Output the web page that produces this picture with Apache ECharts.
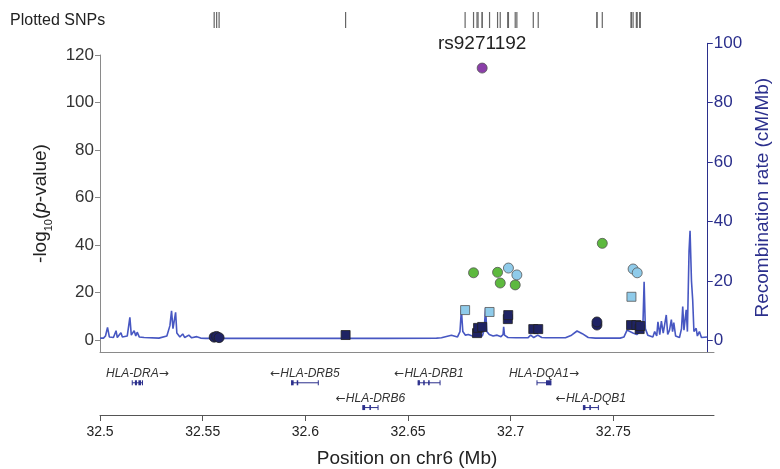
<!DOCTYPE html>
<html>
<head>
<meta charset="utf-8">
<script src="https://cdn.jsdelivr.net/npm/echarts@6/dist/echarts.min.js"></script>
<style>
  html, body { margin: 0; padding: 0; background: #fff; }
  #main { width: 780px; height: 469px; }
</style>
</head>
<body>
<div id="main"></div>
<script>
// region shown on the x axis (Mb)
var xMin = 32.5, xMax = 32.799;
var xTicks = [32.5, 32.55, 32.6, 32.65, 32.7, 32.75];
var pTicks = [0, 20, 40, 60, 80, 100, 120];
var recTicks = [0, 20, 40, 60, 80, 100];

// plotted SNPs: position, -log10 p, LD bin (0 navy, 1 light blue, 2 green, 4 lead), square marker
var leadSnp = 'rs9271192';
var snpPos  = [32.5556, 32.5568, 32.5580, 32.6196, 32.6778, 32.6819, 32.6836, 32.6841, 32.6861, 32.6897,
               32.6936, 32.6949, 32.6986, 32.6988, 32.6989, 32.7022, 32.7030, 32.7110, 32.7134, 32.7420,
               32.7420, 32.7446, 32.7586, 32.7588, 32.7596, 32.7612, 32.7616, 32.7628, 32.7631, 32.6861];
var snpLogP = [1.2, 1.5, 1.0, 2.1, 12.6, 28.3, 2.9, 5.1, 5.5, 11.8,
               28.5, 24.0, 8.8, 10.5, 30.3, 23.2, 27.4, 4.6, 4.6, 6.3,
               7.6, 40.7, 6.3, 18.2, 29.9, 6.3, 28.3, 4.6, 5.9, 114.5];
var snpLd   = [0, 0, 0, 0, 1, 2, 0, 0, 0, 1,
               2, 2, 0, 0, 1, 2, 1, 0, 0, 0,
               0, 2, 0, 1, 1, 0, 1, 0, 0, 4];
var snpSquare = [0, 0, 0, 1, 1, 0, 1, 1, 1, 1,
                 0, 0, 1, 1, 0, 0, 0, 1, 1, 0,
                 0, 0, 1, 1, 0, 1, 0, 1, 1, 0];
var ldColors = ['#1f2363', '#8fcbea', '#5db93e', '#f0a030', '#8b3fa9'];

// recombination rate (cM/Mb)
var recombPos = [32.5000, 32.5017, 32.5027, 32.5037, 32.5046, 32.5066, 32.5079, 32.5085, 32.5103, 32.5110,
                 32.5134, 32.5147, 32.5154, 32.5168, 32.5176, 32.5183, 32.5193, 32.5217, 32.5290, 32.5329,
                 32.5344, 32.5352, 32.5359, 32.5364, 32.5372, 32.5378, 32.5393, 32.5407, 32.5417, 32.5437,
                 32.5451, 32.5476, 32.5495, 32.5520, 32.5583, 32.6000, 32.6400, 32.6656, 32.6680, 32.6729,
                 32.6759, 32.6771, 32.6778, 32.6785, 32.6798, 32.6812, 32.6832, 32.6851, 32.6881, 32.6890,
                 32.6897, 32.6903, 32.6915, 32.6934, 32.6954, 32.6973, 32.6983, 32.6986, 32.6990, 32.7007,
                 32.7046, 32.7105, 32.7119, 32.7134, 32.7154, 32.7173, 32.7193, 32.7290, 32.7320, 32.7347,
                 32.7373, 32.7402, 32.7437, 32.7559, 32.7578, 32.7593, 32.7622, 32.7641, 32.7656, 32.7671,
                 32.7677, 32.7683, 32.7695, 32.7720, 32.7729, 32.7739, 32.7745, 32.7754, 32.7762, 32.7771,
                 32.7786, 32.7793, 32.7802, 32.7811, 32.7817, 32.7823, 32.7832, 32.7851, 32.7861, 32.7867,
                 32.7873, 32.7884, 32.7890, 32.7898, 32.7903, 32.7910, 32.7916, 32.7922, 32.7933, 32.7939,
                 32.7949, 32.7959, 32.7988];
var recombRate = [0.8, 0.8, 1.5, 4.4, 1.2, 1.0, 3.3, 1.0, 2.6, 1.2,
                  1.5, 7.8, 1.8, 3.3, 1.5, 2.8, 1.2, 1.0, 0.8, 1.5,
                  5.0, 10.0, 4.0, 4.5, 9.5, 2.5, 1.2, 2.2, 1.0, 1.8,
                  0.9, 1.3, 0.8, 0.7, 0.7, 0.7, 0.7, 0.8, 0.9, 1.8,
                  1.2, 3.0, 10.3, 3.0, 1.8, 2.0, 1.5, 2.0, 1.5, 3.5,
                  11.0, 3.0, 2.0, 1.5, 1.8, 1.3, 2.0, 4.6, 1.8, 1.0,
                  0.9, 0.9, 1.8, 1.0, 1.8, 1.0, 0.9, 0.9, 1.8, 3.2,
                  2.3, 1.0, 0.8, 0.8, 1.2, 3.5, 2.5, 2.0, 3.0, 5.0,
                  19.8, 4.0, 1.8, 1.2, 3.0, 1.5, 6.3, 2.0, 6.5, 2.5,
                  8.6, 2.0, 3.5, 7.0, 3.0, 6.0, 1.5, 1.0, 4.0, 11.4,
                  3.5, 10.3, 3.0, 30.0, 36.9, 20.0, 13.6, 3.0, 4.1, 1.5,
                  3.0, 1.0, 1.2];

// genes: name, start, end (Mb), strand, row, exons
var geneName   = ['HLA-DRA', 'HLA-DRB5', 'HLA-DRB6', 'HLA-DRB1', 'HLA-DQA1', 'HLA-DQB1'];
var geneStart  = [32.5157, 32.5933, 32.6280, 32.6549, 32.7128, 32.7354];
var geneEnd    = [32.5207, 32.6063, 32.6354, 32.6656, 32.7196, 32.7427];
var geneStrand = [1, -1, -1, -1, 1, -1];
var geneRow    = [1, 1, 2, 1, 1, 2];
var geneExons  = [
  [[32.5170, 32.5180], [32.5187, 32.5200]],
  [[32.5933, 32.5943], [32.5958, 32.5962]],
  [[32.6280, 32.6291], [32.6312, 32.6316]],
  [[32.6549, 32.6558], [32.6574, 32.6578], [32.6598, 32.6602]],
  [[32.7172, 32.7196]],
  [[32.7354, 32.7364], [32.7383, 32.7387]]
];

var navy = '#2b2f8c';
var chart = echarts.init(document.getElementById('main'));

var snpData = [];
for (var i = 0; i < snpPos.length; i++) {
  var lead = snpLd[i] === 4;
  snpData.push({
    value: [snpPos[i], snpLogP[i]],
    symbol: snpSquare[i] ? 'rect' : 'circle',
    symbolSize: snpSquare[i] ? 9 : 10,
    itemStyle: { color: ldColors[snpLd[i]], borderColor: snpLd[i] === 0 ? '#222' : '#555', borderWidth: 0.8, opacity: 1 },
    label: lead ? { show: true, formatter: leadSnp, position: 'top', distance: 9, fontSize: 19, color: '#222' } : { show: false }
  });
}

var rugData = snpPos.map(function (p) { return [p, 0]; });
var recombData = recombPos.map(function (p, k) { return [p, recombRate[k]]; });
var geneData = geneName.map(function (n, k) { return [geneStart[k], geneEnd[k], geneRow[k]]; });

function renderGene(params, api) {
  var k = params.dataIndex;
  var s = api.coord([geneStart[k], geneRow[k]]);
  var e = api.coord([geneEnd[k], geneRow[k]]);
  var y = s[1];
  var stroke = { stroke: navy, lineWidth: 1 };
  var children = [
    { type: 'line', shape: { x1: s[0], y1: y, x2: e[0], y2: y }, style: stroke },
    { type: 'line', shape: { x1: s[0], y1: y - 2.5, x2: s[0], y2: y + 2.5 }, style: stroke },
    { type: 'line', shape: { x1: e[0], y1: y - 2.5, x2: e[0], y2: y + 2.5 }, style: stroke }
  ];
  geneExons[k].forEach(function (ex) {
    var a = api.coord([ex[0], geneRow[k]]);
    var b = api.coord([ex[1], geneRow[k]]);
    children.push({ type: 'rect', shape: { x: a[0], y: y - 2.5, width: Math.max(b[0] - a[0], 1.5), height: 5 }, style: { fill: navy } });
  });
  var label = geneStrand[k] > 0 ? geneName[k] + '{a|\u2192}' : '{a|\u2190}' + geneName[k];
  children.push({
    type: 'text', x: (s[0] + e[0]) / 2, y: y - 9,
    style: { text: label, fontSize: 12, fontStyle: 'italic', fontFamily: 'Liberation Sans', fill: '#333',
             align: 'center', verticalAlign: 'middle',
             rich: { a: { fontFamily: 'DejaVu Sans', fontSize: 12, fill: '#333' } } }
  });
  return { type: 'group', children: children };
}

var option = {
  animation: false,
  backgroundColor: '#fff',
  textStyle: { fontFamily: 'Liberation Sans, Arial, sans-serif' },
  title: { text: 'Plotted SNPs', left: 10, top: 13, padding: 0,
           textStyle: { fontSize: 16, fontWeight: 'normal', color: '#222' } },
  grid: [
    { left: 100, right: 66, top: 55, bottom: 117 },   // association
    { left: 100, right: 66, top: 43.3, bottom: 117 }, // recombination
    { left: 100, right: 66, top: 358, bottom: 54 },   // genes
    { left: 100, right: 66, top: 12, height: 16 }      // SNP rug
  ],
  xAxis: [
    { gridIndex: 0, type: 'value', min: xMin, max: xMax,
      axisLine: { show: true, onZero: false, lineStyle: { color: '#8a8a8a' } },
      axisTick: { show: false }, axisLabel: { show: false }, splitLine: { show: false } },
    { gridIndex: 1, type: 'value', min: xMin, max: xMax, show: false },
    { gridIndex: 2, type: 'value', min: xMin, max: xMax, position: 'bottom',
      axisLine: { show: true, onZero: false, lineStyle: { color: '#555' } },
      axisTick: { show: true, length: 6, customValues: xTicks, lineStyle: { color: '#555' } },
      axisLabel: { customValues: xTicks, fontSize: 14, color: '#222', margin: 10,
                   formatter: function (v) { return String(+v.toFixed(2)); } },
      splitLine: { show: false },
      name: 'Position on chr6 (Mb)', nameLocation: 'middle', nameGap: 34,
      nameTextStyle: { fontSize: 19, color: '#222' } },
    { gridIndex: 3, type: 'value', min: xMin, max: xMax, show: false }
  ],
  yAxis: [
    { gridIndex: 0, type: 'value', min: -5.05, max: 120, position: 'left',
      axisLine: { show: true, lineStyle: { color: '#8a8a8a' } },
      axisTick: { show: true, length: 5, customValues: pTicks, lineStyle: { color: '#8a8a8a' } },
      axisLabel: { customValues: pTicks, fontSize: 17, color: '#333', margin: 6 },
      splitLine: { show: false },
      name: '-log{sub|10}({it|p}-value)', nameLocation: 'middle', nameRotate: 90, nameGap: 42,
      nameTextStyle: { fontSize: 19, color: '#222', lineHeight: 28,
        rich: {
          sub: { fontSize: 11, color: '#222', lineHeight: 28, verticalAlign: 'bottom' },
          it: { fontSize: 19, color: '#222', fontStyle: 'italic', lineHeight: 28 }
        } } },
    { gridIndex: 1, type: 'value', min: -3.87, max: 100, position: 'right',
      axisLine: { show: true, lineStyle: { color: navy } },
      axisTick: { show: true, length: 5, customValues: recTicks, lineStyle: { color: navy } },
      axisLabel: { customValues: recTicks, fontSize: 17, color: navy, margin: 6 },
      splitLine: { show: false },
      name: 'Recombination rate (cM/Mb)', nameLocation: 'middle', nameRotate: 90, nameGap: 42,
      nameTextStyle: { fontSize: 19, color: navy } },
    { gridIndex: 2, type: 'value', min: 0, max: 2.3, inverse: true, show: false },
    { gridIndex: 3, type: 'value', min: -1, max: 1, show: false }
  ],
  series: [
    { type: 'line', xAxisIndex: 1, yAxisIndex: 1, data: recombData, showSymbol: false, z: 1,
      lineStyle: { color: '#4757c2', width: 1.6 } },
    { type: 'scatter', xAxisIndex: 0, yAxisIndex: 0, data: snpData, z: 3 },
    { type: 'custom', xAxisIndex: 2, yAxisIndex: 2, data: geneData, renderItem: renderGene },
    { type: 'scatter', xAxisIndex: 3, yAxisIndex: 3, data: rugData, symbol: 'rect', symbolSize: [1.2, 16],
      itemStyle: { color: '#666', opacity: 1 } }
  ]
};

chart.setOption(option);
</script>
</body>
</html>
